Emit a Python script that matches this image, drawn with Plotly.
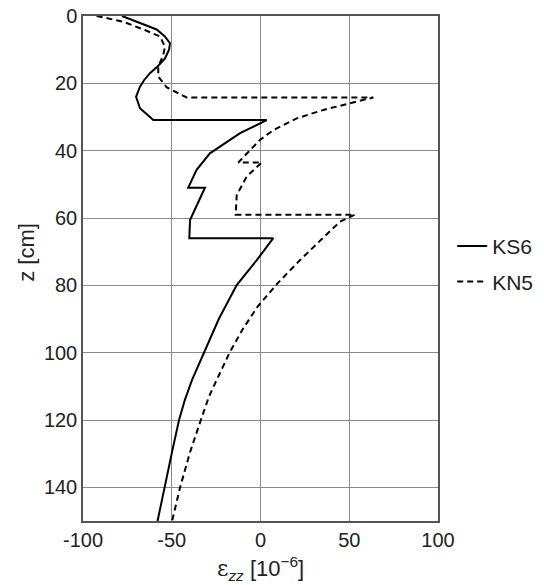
import plotly.graph_objects as go

# KS6 (solid) : depth z [cm] and strain eps_zz [1e-6]
ks6_z = [0, 2, 4, 6, 8.1, 10, 12.6, 15, 17, 19, 21, 24, 27.4, 30.9, 30.9, 34.8, 36.8, 40.8,
         45.7, 51, 51, 56.6, 60.6, 66, 66, 72.5, 79.9, 90, 100.2, 108, 114, 120,
         129.4, 140, 150]
ks6_eps = [-78, -68, -58.5, -54, -51, -51.5, -53.8, -58, -62.3, -65.5, -67.9, -70.1, -67.9,
           -60.4, 3.5, -11.5, -17, -28.5, -36, -40.7, -31.3, -36, -39.7, -40.1, 7.2,
           -2.1, -13.4, -23.5, -32.2, -38.5, -42.6, -45.9, -49.8, -54.1, -58]

# KN5 (dashed)
kn5_z = [0, 1.7, 4.2, 6.1, 9.1, 11.6, 15, 18, 21.2, 24.2, 24.2, 25.9, 27.9, 30.4, 33.9, 36.8,
         40.3, 43.5, 43.5, 47.7, 53.2, 59, 59, 61.1, 66, 72.5, 79.4, 86.3, 93, 100.2, 108, 113,
         120, 129.4, 140, 150]
kn5_eps = [-92.3, -77.3, -65, -56.6, -53.8, -54.8, -57.6, -57.6, -52.8, -41.6, 63.6, 50.4,
           35.4, 20.4, 7.2, -0.3, -6.9, -12.5, 0.7, -7.8, -13.4, -14, 53.2, 44.8, 35, 22.3,
           9.6, -1.6, -10, -17.6, -24.6, -29, -33.6, -39.6, -45.3, -49.8]

x_ticks = [-100, -50, 0, 50, 100]
y_ticks = [0, 20, 40, 60, 80, 100, 120, 140]

FONT = "Liberation Sans, Arial, sans-serif"
TXT = "#222222"

fig = go.Figure()
fig.add_trace(go.Scatter(x=ks6_eps, y=ks6_z, mode="lines", name="KS6", legendgroup="a",
                         line=dict(color="black", width=2)))
fig.add_trace(go.Scatter(x=kn5_eps, y=kn5_z, mode="lines", name="KN5", legendgroup="b",
                         line=dict(color="black", width=2, dash="6px,4px")))

axis_common = dict(showgrid=True, gridcolor="#8a8a8a", gridwidth=1, zeroline=False,
                   showline=True, linecolor="#555555", linewidth=1.5, mirror=True,
                   ticks="", tickfont=dict(family=FONT, size=20, color=TXT))

fig.update_xaxes(range=[-100, 100], tickvals=x_ticks, ticktext=[str(v) for v in x_ticks],
                 **axis_common)
fig.update_yaxes(range=[150, 0], tickvals=y_ticks, ticktext=[str(v) for v in y_ticks],
                 **axis_common)

fig.update_layout(
    width=544, height=585,
    margin=dict(l=83, r=106, t=16, b=64, pad=0, autoexpand=False),
    plot_bgcolor="white", paper_bgcolor="white",
    font=dict(family=FONT, size=20, color=TXT),
    showlegend=True,
    legend=dict(x=1.04, y=0.509, xanchor="left", yanchor="middle",
                font=dict(family=FONT, size=21, color=TXT),
                tracegroupgap=5, itemwidth=30, bgcolor="rgba(0,0,0,0)"),
    annotations=[
        dict(text="z [cm]", xref="paper", yref="paper", x=-0.158, y=0.533,
             xanchor="center", yanchor="middle", textangle=-90, showarrow=False,
             font=dict(family=FONT, size=22, color=TXT)),
        dict(text="<span style='font-family:DejaVu Serif'>ε</span><sub><i>zz</i></sub> [10<sup>−6</sup>]",
             xref="paper", yref="paper", x=0.5, y=-0.095,
             xanchor="center", yanchor="middle", showarrow=False,
             font=dict(family=FONT, size=22, color=TXT)),
    ],
)

fig.write_html("out.html")
